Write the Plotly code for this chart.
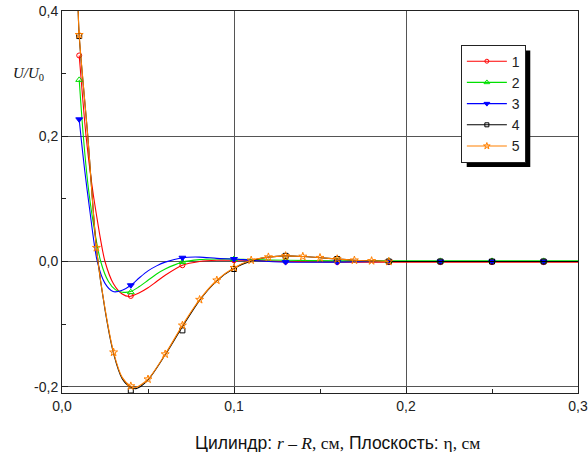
import plotly.graph_objects as go

# ---------------- data ----------------
names = ["1", "2", "3", "4", "5"]
colors = ["#ff0000", "#00e000", "#0000ff", "#000000", "#ff8000"]
symbols = ["circle-open", "triangle-up-open", "triangle-down", "square-open", "star-open"]
msizes = [5, 6, 6, 5, 6]

# smooth curves
x1 = [0.010, 0.012, 0.014, 0.017, 0.020, 0.025, 0.030, 0.035, 0.039, 0.045, 0.050, 0.055, 0.060, 0.070,
      0.080, 0.090, 0.100, 0.110, 0.130, 0.160, 0.190, 0.220, 0.250, 0.280, 0.300]
y1 = [0.329, 0.262, 0.200, 0.130, 0.075, 0.000, -0.036, -0.052, -0.056, -0.050, -0.042, -0.032, -0.022, -0.006,
      0.000, 0.002, 0.002, 0.002, 0.000, -0.001, -0.001, -0.001, -0.001, -0.001, -0.001]

x2 = [0.010, 0.0124, 0.015, 0.018, 0.0225, 0.027, 0.031, 0.035, 0.040, 0.045, 0.050, 0.055, 0.060, 0.070,
      0.080, 0.090, 0.100, 0.110, 0.130, 0.160, 0.190, 0.220, 0.250, 0.280, 0.300]
y2 = [0.290, 0.200, 0.125, 0.065, 0.000, -0.032, -0.045, -0.049, -0.048, -0.040, -0.030, -0.020, -0.012, -0.001,
      0.003, 0.004, 0.004, 0.003, 0.002, 0.001, 0.001, 0.001, 0.001, 0.001, 0.001]

x3 = [0.010, 0.011, 0.013, 0.016, 0.0205, 0.025, 0.0297, 0.035, 0.040, 0.045, 0.050, 0.055, 0.060, 0.070,
      0.080, 0.090, 0.100, 0.110, 0.130, 0.160, 0.190, 0.220, 0.250, 0.280, 0.300]
y3 = [0.227, 0.200, 0.150, 0.085, 0.000, -0.035, -0.048, -0.046, -0.038, -0.026, -0.015, -0.007, -0.001, 0.006,
      0.007, 0.005, 0.004, 0.002, -0.001, -0.001, 0.000, 0.000, 0.000, 0.000, 0.000]

x4 = [0.0093, 0.010, 0.015, 0.020, 0.025, 0.030, 0.035, 0.040, 0.043, 0.050, 0.060, 0.070, 0.080, 0.090,
      0.100, 0.110, 0.120, 0.130, 0.140, 0.150, 0.160, 0.170, 0.180, 0.190, 0.220, 0.250, 0.280, 0.300]
y4 = [0.410, 0.360, 0.200, 0.022, -0.077, -0.147, -0.187, -0.201, -0.203, -0.189, -0.149, -0.104, -0.062, -0.031,
      -0.011, 0.001, 0.007, 0.009, 0.008, 0.006, 0.004, 0.002, 0.001, 0.000, 0.000, 0.000, 0.000, 0.000]

x5 = [0.0093, 0.010, 0.015, 0.020, 0.025, 0.030, 0.035, 0.040, 0.043, 0.050, 0.060, 0.070, 0.080, 0.090,
      0.100, 0.110, 0.120, 0.130, 0.140, 0.150, 0.160, 0.170, 0.180, 0.190]
y5 = [0.410, 0.362, 0.200, 0.022, -0.075, -0.145, -0.185, -0.199, -0.201, -0.188, -0.148, -0.102, -0.061, -0.030,
      -0.010, 0.002, 0.007, 0.009, 0.008, 0.006, 0.004, 0.002, 0.001, 0.000]

# marker points
mx_a = [0.01, 0.04, 0.07, 0.10, 0.13, 0.16, 0.19, 0.22, 0.25, 0.28]
my1 = [0.329, -0.055, -0.006, 0.002, 0.000, -0.001, -0.001, -0.001, -0.001, -0.001]
my2 = [0.290, -0.049, -0.001, 0.004, 0.002, 0.001, 0.001, 0.001, 0.001, 0.001]
my3 = [0.227, -0.038, 0.006, 0.004, -0.001, -0.001, 0.000, 0.000, 0.000, 0.000]
my4 = [0.360, -0.206, -0.110, -0.012, 0.009, 0.004, 0.000, 0.000, 0.000, 0.000]
mx_b = [0.01, 0.02, 0.03, 0.04, 0.05, 0.06, 0.07, 0.08, 0.09, 0.10, 0.11, 0.12, 0.13, 0.14, 0.15, 0.16,
        0.17, 0.18, 0.19]
my5 = [0.362, 0.022, -0.145, -0.199, -0.188, -0.148, -0.102, -0.061, -0.030, -0.010, 0.002, 0.007, 0.009,
       0.008, 0.006, 0.004, 0.002, 0.001, 0.000]

x_ticks = [0.0, 0.1, 0.2, 0.3]
x_ticktext = ["0,0", "0,1", "0,2", "0,3"]
y_ticks = [-0.2, 0.0, 0.2, 0.4]
y_ticktext = ["-0,2", "0,0", "0,2", "0,4"]
x_minor = [0.05, 0.15, 0.25]
y_minor = [-0.1, 0.1, 0.3]

lines = [(x1, y1), (x2, y2), (x3, y3), (x4, y4), (x5, y5)]
marks = [(mx_a, my1), (mx_a, my2), (mx_a, my3), (mx_a, my4), (mx_b, my5)]

fig = go.Figure()
for i in range(5):
    lx, ly = lines[i]
    fig.add_trace(go.Scatter(x=lx, y=ly, mode="lines", showlegend=False,
                             line=dict(color=colors[i], width=1.1, shape="spline", smoothing=0.8),
                             hoverinfo="skip"))
    mxx, myy = marks[i]
    fig.add_trace(go.Scatter(x=mxx, y=myy, mode="markers", showlegend=False,
                             marker=dict(symbol=symbols[i], size=msizes[i], color=colors[i],
                                         line=dict(color=colors[i], width=1)),
                             cliponaxis=True))
for i in range(5):
    fig.add_trace(go.Scatter(x=[None], y=[None], mode="lines+markers", name=names[i],
                             line=dict(color=colors[i], width=1.1),
                             marker=dict(symbol=symbols[i], size=msizes[i] - 1, color=colors[i],
                                         line=dict(color=colors[i], width=1))))

axis_common = dict(showline=True, linecolor="#222", linewidth=1, mirror=True,
                   showgrid=True, gridcolor="#555", gridwidth=1,
                   ticks="inside", ticklen=6, tickcolor="#222",
                   tickfont=dict(family="Liberation Sans, Arial", size=14, color="#222"),
                   zeroline=False, automargin=False)

fig.update_xaxes(range=[0, 0.3], tickmode="array", tickvals=x_ticks, ticktext=x_ticktext,
                 minor=dict(tickmode="array", tickvals=x_minor, ticks="inside", ticklen=4,
                            tickcolor="#222", showgrid=False),
                 **axis_common)
fig.update_yaxes(range=[-0.21, 0.4], tickmode="array", tickvals=y_ticks, ticktext=y_ticktext,
                 minor=dict(tickmode="array", tickvals=y_minor, ticks="inside", ticklen=4,
                            tickcolor="#222", showgrid=False),
                 **axis_common)

fig.update_layout(
    width=588, height=452,
    margin=dict(l=62, r=10, t=11, b=59),
    paper_bgcolor="white", plot_bgcolor="white",
    font=dict(family="Liberation Sans, Arial", size=14, color="#222"),
    showlegend=True,
    legend=dict(x=0.773, y=0.912, xanchor="left", yanchor="top",
                bgcolor="white", bordercolor="#222", borderwidth=1,
                font=dict(size=14, color="#222"), itemwidth=40,
                tracegroupgap=0),
    shapes=[dict(type="rect", xref="paper", yref="paper",
                 x0=0.7843, x1=0.9075, y0=0.5918, y1=0.8963,
                 fillcolor="black", line=dict(width=0), layer="above")],
    annotations=[
        dict(text='Цилиндр: <span style="font-family:Liberation Serif"><i>r</i> – <i>R</i>, см,</span> '
                  'Плоскость: <span style="font-family:Liberation Serif">η, см</span>',
             xref="paper", yref="paper", x=0.533, y=-0.132, xanchor="center", yanchor="middle",
             showarrow=False, font=dict(family="Liberation Sans, Arial", size=17.5, color="#111")),
        dict(text="<i>U/U</i><sub>0</sub>", xref="paper", yref="y", x=0, y=0.3,
             xanchor="right", yanchor="middle", xshift=-16, showarrow=False,
             font=dict(family="Liberation Serif, Times New Roman", size=15, color="#111")),
    ],
)

fig.write_html("out.html")
